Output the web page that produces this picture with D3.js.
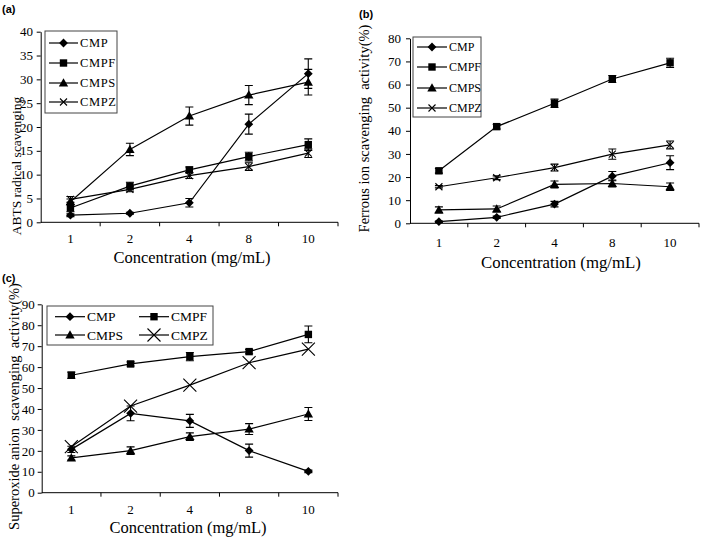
<!DOCTYPE html>
<html><head><meta charset="utf-8">
<script src="https://cdn.jsdelivr.net/npm/d3@7"></script>
<style>
body{margin:0;background:#fff;}
svg{display:block;}
</style></head>
<body>
<svg id="chart" width="709" height="541"></svg>
<script>
// ---------- DATA ----------
const categories = ["1", "2", "4", "8", "10"];
const seriesNames = ["CMP", "CMPF", "CMPS", "CMPZ"];

// (a) ABTS radical scavenging
const abtsCMP  = [1.5, 1.9, 4.1, 20.6, 31.2];
const abtsCMPF = [3.0, 7.6, 11.0, 13.8, 16.3];
const abtsCMPS = [4.3, 15.3, 22.3, 26.7, 29.4];
const abtsCMPZ = [4.8, 6.9, 9.8, 11.7, 14.5];
const abtsErrCMP  = [0.3, 0.2, 0.9, 2.1, 3.1];
const abtsErrCMPF = [0.8, 0.8, 0.6, 0.9, 1.2];
const abtsErrCMPS = [0.6, 1.3, 1.9, 2.0, 2.7];
const abtsErrCMPZ = [0.6, 0.5, 0.6, 0.8, 0.9];
const abtsTicks = [0, 5, 10, 15, 20, 25, 30, 35, 40];

// (b) Ferrous ion scavenging
const ferCMP  = [0.7, 2.6, 8.3, 20.4, 26.2];
const ferCMPF = [22.7, 41.8, 51.9, 62.4, 69.4];
const ferCMPS = [5.8, 6.2, 16.8, 17.2, 15.8];
const ferCMPZ = [15.8, 19.7, 24.1, 29.9, 33.9];
const ferErrCMP  = [0.3, 0.5, 1.2, 2.0, 3.0];
const ferErrCMPF = [1.0, 1.0, 1.8, 1.5, 2.0];
const ferErrCMPS = [1.3, 1.3, 1.5, 1.5, 1.6];
const ferErrCMPZ = [0.5, 0.8, 1.5, 2.2, 1.7];
const ferTicks = [0, 10, 20, 30, 40, 50, 60, 70, 80];

// (c) Superoxide anion scavenging
const supCMP  = [20.7, 37.9, 34.3, 20.1, 10.2];
const supCMPF = [56.1, 61.5, 65.0, 67.4, 75.6];
const supCMPS = [16.6, 20.1, 26.8, 30.4, 37.6];
const supCMPZ = [22.0, 41.4, 51.4, 62.1, 68.6];
const supErrCMP  = [1.5, 3.5, 3.1, 3.1, 0.6];
const supErrCMPF = [1.5, 1.0, 2.0, 1.0, 4.0];
const supErrCMPS = [1.0, 1.8, 1.8, 2.6, 3.1];
const supErrCMPZ = [0, 0, 0, 0, 0];
const supTicks = [0, 10, 20, 30, 40, 50, 60, 70, 80, 90];

const panelLabels = ["(a)", "(b)", "(c)"];
const yTitles = ["ABTS radical scavenging", "Ferrous ion scavenging  activity(%)", "Superoxide anion  scavenging  activity(%)"];
const xTitle = "Concentration (mg/mL)";

// ---------- DRAWING ----------
const svg = d3.select("#chart");
const SERIF = "'Liberation Serif','Times New Roman',serif";
const SANS = "'Liberation Sans',Arial,sans-serif";

function markerPath(kind, s) {
  if (kind === "CMP") { // diamond
    const r = 4.4 * s;
    return `M0,${-r}L${r},0L0,${r}L${-r},0Z`;
  }
  if (kind === "CMPF") { // square
    const r = 3.7 * s;
    return `M${-r},${-r}H${r}V${r}H${-r}Z`;
  }
  if (kind === "CMPS") { // triangle
    const r = 4.7 * s;
    return `M0,${-r}L${r},${r * 0.75}L${-r},${r * 0.75}Z`;
  }
  return null;
}

function drawMarker(g, kind, x, y, s, xSize) {
  if (kind === "CMPZ") {
    const r = xSize;
    g.append("path")
      .attr("d", `M${x - r},${y - r}L${x + r},${y + r}M${x - r},${y + r}L${x + r},${y - r}`)
      .attr("stroke", "#000").attr("stroke-width", 1.1).attr("fill", "none");
  } else {
    g.append("path").attr("d", markerPath(kind, s))
      .attr("transform", `translate(${x},${y})`)
      .attr("fill", "#000");
  }
}

function drawPanel(cfg) {
  const g = svg.append("g");
  const x = d3.scaleBand().domain(categories).range([cfg.left, cfg.right]).paddingInner(0).paddingOuter(0);
  const y = d3.scaleLinear().domain([0, cfg.yMax]).range([cfg.bottom, cfg.top]);
  const cx = c => x(c) + x.bandwidth() / 2;

  // y axis
  const yAxis = d3.axisLeft(y).tickValues(cfg.ticks).tickSize(4).tickSizeOuter(0).tickPadding(cfg.yPad);
  const ya = g.append("g").attr("transform", `translate(${cfg.left},0)`).call(yAxis);
  ya.selectAll("text").attr("font-family", SERIF).attr("font-size", 13).attr("fill", "#000");
  ya.selectAll("line,path").attr("stroke", "#000").attr("stroke-width", 1);

  // x axis labels
  const xAxis = d3.axisBottom(x).tickSize(0).tickPadding(cfg.xPad);
  const xa = g.append("g").attr("transform", `translate(0,${cfg.bottom})`).call(xAxis);
  xa.select(".domain").remove();
  xa.selectAll("text").attr("font-family", SERIF).attr("font-size", 13).attr("fill", "#000");
  // x axis line and boundary ticks
  g.append("line").attr("x1", cfg.left).attr("x2", cfg.right).attr("y1", cfg.bottom).attr("y2", cfg.bottom)
    .attr("stroke", "#000");
  const bounds = categories.map(c => x(c)).concat([cfg.right]);
  g.selectAll(".bt").data(bounds.slice(1)).enter().append("line")
    .attr("x1", d => d).attr("x2", d => d).attr("y1", cfg.bottom).attr("y2", cfg.bottom + 4)
    .attr("stroke", "#000");

  // titles
  g.append("text").attr("x", cfg.xtX).attr("y", cfg.xtY).attr("text-anchor", "middle")
    .attr("font-family", SERIF).attr("font-size", cfg.xtSize).text(xTitle);
  g.append("text").attr("transform", `translate(${cfg.ytX},${cfg.ytY}) rotate(-90)`).attr("text-anchor", "middle")
    .attr("font-family", SERIF).attr("font-size", cfg.ytSize).style("white-space", "pre").text(cfg.yTitle);
  g.append("text").attr("x", cfg.plX).attr("y", cfg.plY)
    .attr("font-family", SANS).attr("font-weight", "bold").attr("font-size", 11).text(cfg.label);

  // series
  const line = d3.line().x((d, i) => cx(categories[i])).y(d => y(d));
  cfg.series.forEach(s => {
    g.append("path").attr("d", line(s.values)).attr("fill", "none").attr("stroke", "#000").attr("stroke-width", 1.2);
  });
  cfg.series.forEach(s => {
    s.values.forEach((v, i) => {
      const e = s.err[i];
      if (e > 0) {
        const px = cx(categories[i]);
        g.append("path")
          .attr("d", `M${px},${y(v - e)}V${y(v + e)}M${px - 4},${y(v + e)}H${px + 4}M${px - 4},${y(v - e)}H${px + 4}`)
          .attr("stroke", "#000").attr("stroke-width", 1.1).attr("fill", "none");
      }
    });
  });
  cfg.series.forEach(s => {
    s.values.forEach((v, i) => drawMarker(g, s.name, cx(categories[i]), y(v), 1, cfg.xSize));
  });

  // legend
  const L = cfg.legend;
  g.append("rect").attr("x", L.x).attr("y", L.y).attr("width", L.w).attr("height", L.h)
    .attr("fill", "#fff").attr("stroke", "#444").attr("stroke-width", 1);
  cfg.series.forEach((s, i) => {
    const pos = L.pos[i];
    g.append("line").attr("x1", pos[0]).attr("x2", pos[0] + L.lineLen).attr("y1", pos[1]).attr("y2", pos[1])
      .attr("stroke", "#000").attr("stroke-width", 1.2);
    drawMarker(g, s.name, pos[0] + L.lineLen / 2, pos[1], 1, cfg.xSize);
    g.append("text").attr("x", pos[0] + L.lineLen + 2).attr("y", pos[1]).attr("dy", "0.35em")
      .attr("font-family", SERIF).attr("font-size", L.fs).attr("letter-spacing", L.ls).text(s.name);
  });
}

drawPanel({
  label: panelLabels[0], plX: 2, plY: 13,
  left: 40.7, right: 338, top: 31.7, bottom: 222.3, yMax: 40, ticks: abtsTicks, yPad: 3.7, xPad: 11,
  xtX: 192, xtY: 262.5, xtSize: 16.5, ytX: 21, ytY: 166, ytSize: 13.5, yTitle: yTitles[0], xSize: 3.5,
  series: [
    {name: seriesNames[0], values: abtsCMP, err: abtsErrCMP},
    {name: seriesNames[1], values: abtsCMPF, err: abtsErrCMPF},
    {name: seriesNames[2], values: abtsCMPS, err: abtsErrCMPS},
    {name: seriesNames[3], values: abtsCMPZ, err: abtsErrCMPZ}
  ],
  legend: {x: 45, y: 31, w: 72, h: 82, lineLen: 29, fs: 12.5, ls: 0.6,
    pos: [[49, 43], [49, 63], [49, 83], [49, 102]]}
});

drawPanel({
  label: panelLabels[1], plX: 359, plY: 18,
  left: 410, right: 699, top: 38.3, bottom: 223.3, yMax: 80, ticks: ferTicks, yPad: 5, xPad: 14,
  xtX: 561, xtY: 267.5, xtSize: 16.8, ytX: 369, ytY: 128.5, ytSize: 14.5, yTitle: yTitles[1], xSize: 3.5,
  series: [
    {name: seriesNames[0], values: ferCMP, err: ferErrCMP},
    {name: seriesNames[1], values: ferCMPF, err: ferErrCMPF},
    {name: seriesNames[2], values: ferCMPS, err: ferErrCMPS},
    {name: seriesNames[3], values: ferCMPZ, err: ferErrCMPZ}
  ],
  legend: {x: 413, y: 37, w: 68, h: 80, lineLen: 30, fs: 12, ls: 0,
    pos: [[417, 47], [417, 67], [417, 88], [417, 108]]}
});

drawPanel({
  label: panelLabels[2], plX: 2, plY: 282,
  left: 41.7, right: 338, top: 304.3, bottom: 492.7, yMax: 90, ticks: supTicks, yPad: 3, xPad: 12,
  xtX: 188, xtY: 533, xtSize: 16.5, ytX: 19, ytY: 406.5, ytSize: 14.5, yTitle: yTitles[2], xSize: 6.5,
  series: [
    {name: seriesNames[0], values: supCMP, err: supErrCMP},
    {name: seriesNames[1], values: supCMPF, err: supErrCMPF},
    {name: seriesNames[2], values: supCMPS, err: supErrCMPS},
    {name: seriesNames[3], values: supCMPZ, err: supErrCMPZ}
  ],
  legend: {x: 47, y: 306, w: 166, h: 39, lineLen: 30, fs: 13.5, ls: 0,
    pos: [[55, 316.7], [139, 316.7], [55, 335], [139, 335]]}
});
</script>
</body></html>
